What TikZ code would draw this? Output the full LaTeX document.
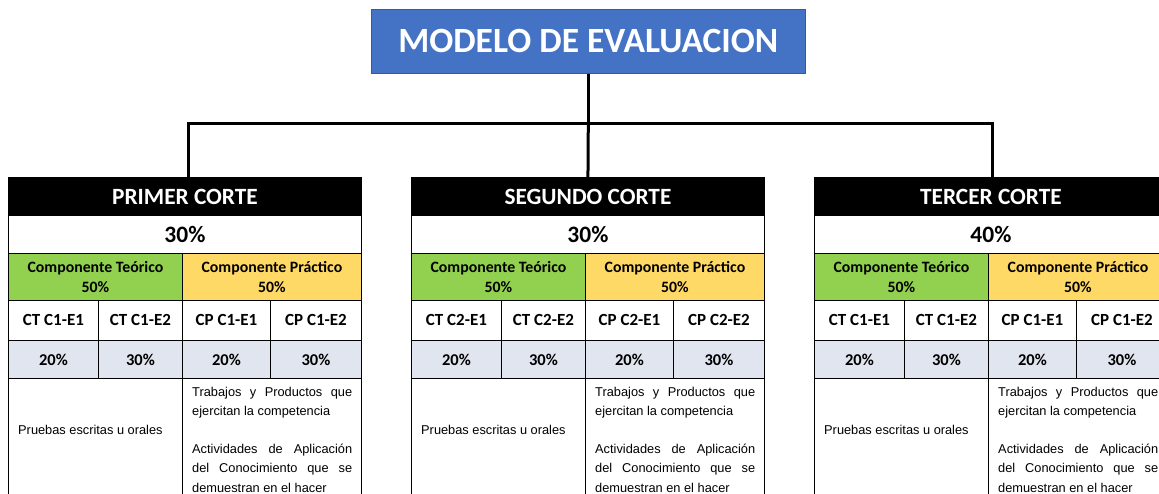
\documentclass[tikz,border=0pt]{standalone}
\usepackage{fontspec}
\setmainfont{Carlito}
\newfontfamily\arialf{Liberation Sans}
\definecolor{titleblue}{HTML}{4472C4}
\definecolor{cgreen}{HTML}{92D050}
\definecolor{cyellow}{HTML}{FFD966}
\definecolor{cgrey}{HTML}{E1E5EF}
\tikzset{
  cell/.style={draw=black, line width=0.9pt, inner sep=0pt, anchor=north west, align=center},
  hdr/.style={cell, fill=black, text=white, font=\fontsize{23.3}{27}\selectfont\bfseries},
  pctbig/.style={cell, fill=white, font=\fontsize{23.5}{27}\selectfont\bfseries},
  comp/.style={cell, font=\fontsize{15.8}{20}\selectfont\bfseries},
  code/.style={cell, fill=white, font=\fontsize{17}{20}\selectfont\bfseries},
  pct/.style={cell, fill=cgrey, font=\fontsize{16.5}{20}\selectfont\bfseries},
  body/.style={cell, fill=white},
  conn/.style={draw=black, line width=3pt},
  txt/.style={inner sep=0pt, font=\arialf\fontsize{12.8}{19.5}\selectfont}
}
\newcommand\corte[5]{%
 \begin{scope}[xshift=#1pt]
  \node[hdr, minimum width=353pt, minimum height=38pt] (#2h) at (0,177) {#3};
  \node[pctbig, minimum width=353pt, minimum height=38pt] (#2p) at (0,215) {#4};
  \node[comp, fill=cgreen, minimum width=174pt, minimum height=47pt] (#2ct) at (0,253) {Componente Teórico\\50\%};
  \node[comp, fill=cyellow, minimum width=179pt, minimum height=47pt] (#2cp) at (174,253) {Componente Práctico\\50\%};
  \node[code, minimum width=90pt, minimum height=40pt] (#2a) at (0,300) {CT C#5-E1};
  \node[code, minimum width=84pt, minimum height=40pt] (#2b) at (90,300) {CT C#5-E2};
  \node[code, minimum width=88pt, minimum height=40pt] (#2c) at (174,300) {CP C#5-E1};
  \node[code, minimum width=91pt, minimum height=40pt] (#2d) at (262,300) {CP C#5-E2};
  \node[pct, minimum width=90pt, minimum height=38pt] (#2pa) at (0,340) {20\%};
  \node[pct, minimum width=84pt, minimum height=38pt] (#2pb) at (90,340) {30\%};
  \node[pct, minimum width=88pt, minimum height=38pt] (#2pc) at (174,340) {20\%};
  \node[pct, minimum width=91pt, minimum height=38pt] (#2pd) at (262,340) {30\%};
  \node[body, minimum width=174pt, minimum height=150pt] (#2bt) at (0,378) {};
  \node[body, minimum width=179pt, minimum height=150pt] (#2bp) at (174,378) {};
  \node[txt, anchor=west] (#2tt) at (10,430) {Pruebas escritas u orales};
  \node[txt, anchor=north west, text width=160pt, align=justify] (#2tp) at (184,387)
    {Trabajos y Productos que\linebreak ejercitan la competencia\par\vspace{18pt}%
     Actividades de Aplicación\linebreak del Conocimiento que se\linebreak demuestran en el hacer\par};
 \end{scope}}
\begin{document}
\begin{tikzpicture}[x=1pt, y=-1pt]
\useasboundingbox (0,0) rectangle (1159,494);
\clip (0,0) rectangle (1159,494);
\fill[white] (0,0) rectangle (1159,494);
\node[cell, draw=titleblue!80!black, line width=0.6pt, fill=titleblue, text=white,
      font=\fontsize{35.5}{40}\selectfont\bfseries, minimum width=434pt, minimum height=64pt]
      (title) at (371,9) {MODELO DE EVALUACION};
\corte{8}{pa}{PRIMER CORTE}{30\%}{1}
\corte{411}{pb}{SEGUNDO CORTE}{30\%}{2}
\corte{814}{pc}{TERCER CORTE}{40\%}{1}
\coordinate (bus) at (title.south |- 0,124);
\draw[conn] (title.south) -- (bus);
\draw[conn] ([xshift=3.5pt]pah.north) |- (bus) -| ([xshift=1.5pt]pch.north);
\draw[conn] (bus) -- (pbh.north);
\end{tikzpicture}
\end{document}
